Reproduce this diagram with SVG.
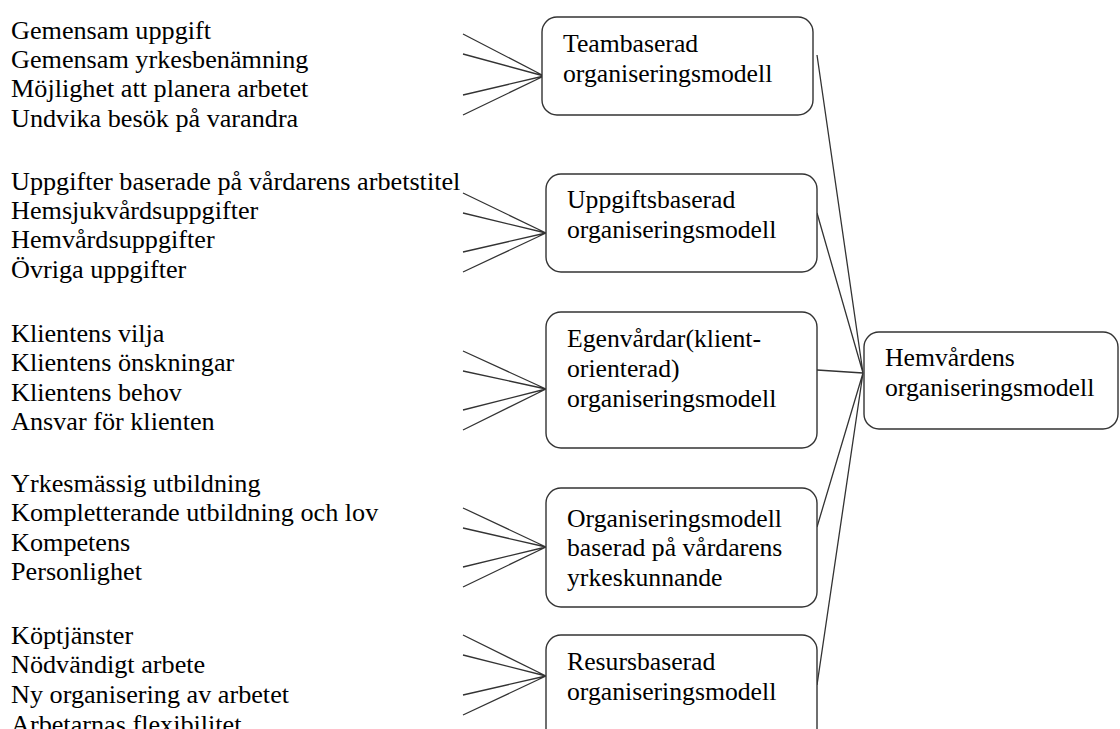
<svg xmlns="http://www.w3.org/2000/svg" width="1120" height="729" viewBox="0 0 1120 729">
<style>
.t text{font-size:25.7px;fill:#000}
.t .l text{font-size:26.2px}
.box{fill:#fff;stroke:#333;stroke-width:1.4}
.ln{stroke:#333;stroke-width:1.3;fill:none}
</style>
<rect width="1120" height="729" fill="#fff"/>
<g id="connectors">
<path class="ln" d="M463,34L544,76M463,54L544,76M463,95L544,76M463,115L544,76"/>
<path class="ln" d="M463,193L546,233M463,213L546,233M463,252L546,233M463,272L546,233"/>
<path class="ln" d="M463,351L546,389M463,371L546,389M463,410L546,389M463,430L546,389"/>
<path class="ln" d="M463,508L546,547M463,528L546,547M463,567L546,547M463,587L546,547"/>
<path class="ln" d="M463,635L546,676M463,655L546,676M463,695L546,676M463,715L546,676"/>
<path class="ln" d="M817,55L863,373M817,213L863,373M817,370L863,373M817,527L863,373M817,685L863,373"/>
</g>
<g class="t" font-family="Liberation Serif, Times New Roman, DejaVu Serif, serif">
<g id="list1" class="l">
<text x="11" y="39">Gemensam uppgift</text>
<text x="11" y="68">Gemensam yrkesbenämning</text>
<text x="11" y="97">Möjlighet att planera arbetet</text>
<text x="11" y="127">Undvika besök på varandra</text>
</g>
<g id="list2" class="l">
<text x="11" y="190">Uppgifter baserade på vårdarens arbetstitel</text>
<text x="11" y="219">Hemsjukvårdsuppgifter</text>
<text x="11" y="248">Hemvårdsuppgifter</text>
<text x="11" y="278">Övriga uppgifter</text>
</g>
<g id="list3" class="l">
<text x="11" y="342">Klientens vilja</text>
<text x="11" y="371">Klientens önskningar</text>
<text x="11" y="401">Klientens behov</text>
<text x="11" y="430">Ansvar för klienten</text>
</g>
<g id="list4" class="l">
<text x="11" y="492">Yrkesmässig utbildning</text>
<text x="11" y="521">Kompletterande utbildning och lov</text>
<text x="11" y="551">Kompetens</text>
<text x="11" y="580">Personlighet</text>
</g>
<g id="list5" class="l">
<text x="11" y="644">Köptjänster</text>
<text x="11" y="673">Nödvändigt arbete</text>
<text x="11" y="703">Ny organisering av arbetet</text>
<text x="11" y="733">Arbetarnas flexibilitet</text>
</g>
<g id="node-teambaserad">
<rect class="box" x="542" y="17" width="271" height="98" rx="15"/>
<text x="563" y="52">Teambaserad</text>
<text x="563" y="82">organiseringsmodell</text>
</g>
<g id="node-uppgiftsbaserad">
<rect class="box" x="546" y="174" width="271" height="98" rx="15"/>
<text x="567" y="208">Uppgiftsbaserad</text>
<text x="567" y="238">organiseringsmodell</text>
</g>
<g id="node-egenvardar">
<rect class="box" x="546" y="312" width="271" height="136" rx="15"/>
<text x="567" y="347">Egenvårdar(klient-</text>
<text x="567" y="377">orienterad)</text>
<text x="567" y="407">organiseringsmodell</text>
</g>
<g id="node-yrkeskunnande">
<rect class="box" x="546" y="488" width="271" height="119" rx="15"/>
<text x="567" y="527">Organiseringsmodell</text>
<text x="567" y="556">baserad på vårdarens</text>
<text x="567" y="586">yrkeskunnande</text>
</g>
<g id="node-resursbaserad">
<rect class="box" x="546" y="635" width="271" height="110" rx="15"/>
<text x="567" y="670">Resursbaserad</text>
<text x="567" y="700">organiseringsmodell</text>
</g>
<g id="node-hemvardens">
<rect class="box" x="864" y="332" width="254" height="97" rx="15"/>
<text x="885" y="366">Hemvårdens</text>
<text x="885" y="396">organiseringsmodell</text>
</g>
</g>
</svg>
